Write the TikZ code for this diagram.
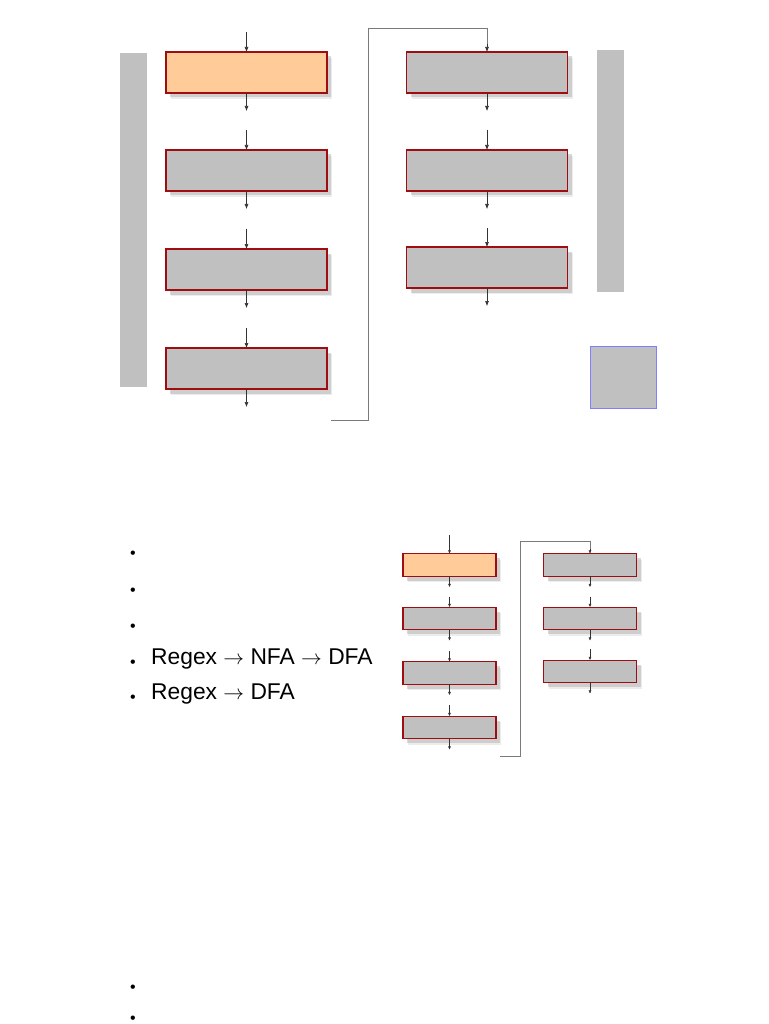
\documentclass[tikz,border=0pt]{standalone}
\usepackage{fontspec}
\setmainfont{Liberation Sans}
\usetikzlibrary{arrows.meta,shadows}
\definecolor{boxgray}{HTML}{C0C0C0}
\definecolor{boxorange}{HTML}{FFCC99}
\definecolor{boxred}{HTML}{A00D10}
\definecolor{linegray}{HTML}{7A7A7A}
\definecolor{bluebd}{HTML}{7F7FFF}
\tikzset{
  x=1pt,y=-1pt,
  pbox/.style={draw=boxred,line width=1.3pt,fill=boxgray,inner sep=0pt,outer sep=0pt,
    drop shadow={shadow xshift=5pt,shadow yshift=-6pt,fill=black!14},
    drop shadow={shadow xshift=4pt,shadow yshift=-4.5pt,fill=black!30}},
  obox/.style={pbox,fill=boxorange},
  bigbox/.style={minimum width=161,minimum height=41},
  smallbox/.style={minimum width=93,minimum height=22.5},
  arr/.style={draw=black!80,line width=0.6pt,-{Latex[length=5pt,width=4pt]}},
  sarr/.style={draw=black!80,line width=0.5pt,-{Latex[length=3.5pt,width=3pt]}},
  conn/.style={draw=linegray,line width=0.7pt},
  bar/.style={fill=boxgray,draw=none,inner sep=0pt,outer sep=0pt},
  bullet/.style={inner sep=0pt,anchor=base,text height=8pt,text depth=0pt,font=\fontsize{16}{16}\selectfont},
  item/.style={anchor=base west,inner sep=0pt,font=\fontsize{22.8}{27}\selectfont}
}
\newcommand{\ra}{$\rightarrow$}
\begin{document}
\begin{tikzpicture}
\useasboundingbox[fill=white] (0,0) rectangle (768,1024);
% ---- top diagram ----
\node[bar,minimum width=27,minimum height=334] (lbar) at (133.5,220) {};
\node[bar,minimum width=27,minimum height=242] (rbar) at (610.5,171) {};
\node[fill=boxgray,draw=bluebd,line width=0.8pt,inner sep=0pt,minimum width=66,minimum height=62] (sq) at (623,377) {};

\node[obox,bigbox] (a1) at (246.5,72.5) {};
\node[pbox,bigbox] (a2) at (246.5,170.5) {};
\node[pbox,bigbox] (a3) at (246.5,269.5) {};
\node[pbox,bigbox] (a4) at (246.5,368.5) {};
\node[pbox,bigbox] (b1) at (487,72.5) {};
\node[pbox,bigbox] (b2) at (487,170.5) {};
\node[pbox,bigbox] (b3) at (487,267.5) {};

\foreach \n/\d in {a1/20,a2/20,a3/20,a4/20,b2/20,b3/19} {
  \draw[arr] (\n.north) ++(0,-\d) coordinate (\n-in) -- (\n.north);
}
\foreach \n in {a1,a2,a3,a4,b1,b2,b3} {
  \draw[arr] (\n.south) -- ++(0,18) coordinate (\n-out);
}
\coordinate (c0) at (331,420);
\draw[conn] (c0) -| (368,28) coordinate (c1) -| ([yshift=8pt]b1.north) coordinate (c2);
\draw[arr] (c2) -- (b1.north);

% ---- bullet list ----
\foreach \y [count=\i] in {558.5,595.5,631.5,667.5,702} {
  \node[bullet] (bl\i) at (133,\y) {•};
}
\node[item] (t1) at (151,664) {Regex \ra{} NFA \ra{} DFA};
\node[item] (t2) at (151,699) {Regex \ra{} DFA};
\node[bullet] (bl6) at (133,992.5) {•};
\node[bullet] (bl7) at (133,1023.5) {•};

% ---- small diagram ----
\node[obox,smallbox] (s1) at (449.5,565) {};
\node[pbox,smallbox] (s2) at (449.5,618.5) {};
\node[pbox,smallbox] (s3) at (449.5,673) {};
\node[pbox,smallbox] (s4) at (449.5,727.5) {};
\node[pbox,smallbox] (r1) at (590,565) {};
\node[pbox,smallbox] (r2) at (590,618.5) {};
\node[pbox,smallbox] (r3) at (590,671.5) {};
\foreach \n/\d in {s1/19,s2/10,s3/11,s4/11,r2/10,r3/11} {
  \draw[sarr] (\n.north) ++(0,-\d) coordinate (\n-in) -- (\n.north);
}
\foreach \n in {s1,s2,s3,s4,r1,r2,r3} {
  \draw[sarr] (\n.south) -- ++(0,11) coordinate (\n-out);
}
\coordinate (d0) at (500,756);
\draw[conn,line width=0.6pt] (d0) -| (520,541) coordinate (d1) -| ([yshift=5pt]r1.north) coordinate (d2);
\draw[sarr] (d2) -- (r1.north);
\end{tikzpicture}
\end{document}
